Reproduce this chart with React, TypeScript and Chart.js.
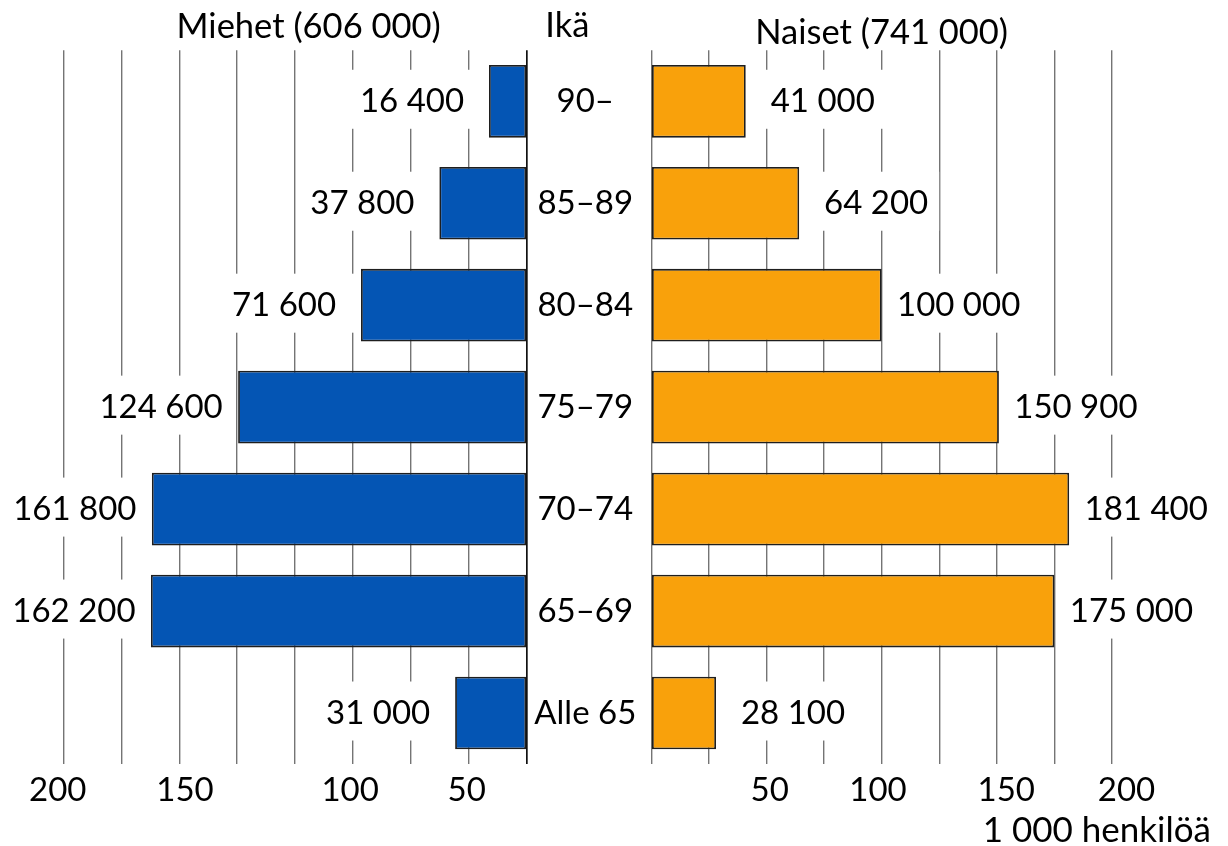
import React, { useEffect, useRef } from 'react';
import { Chart, registerables } from 'chart.js';

Chart.register(...registerables);

// ---- Data ----
const ageGroups = ['90–', '85–89', '80–84', '75–79', '70–74', '65–69', 'Alle 65'];
const menValues = [16.4, 37.8, 71.6, 124.6, 161.8, 162.2, 31.0]; // 1 000 persons
const womenValues = [41.0, 64.2, 100.0, 150.9, 181.4, 175.0, 28.1]; // 1 000 persons
const menTickValues = [202.4, 147.5, 76.3, 26.0];
const menTickLabels = ['200', '150', '100', '50'];
const womenTickValues = [51.4, 98.4, 154.1, 206.3];
const womenTickLabels = ['50', '100', '150', '200'];
const menTitle = 'Miehet (606 000)';
const womenTitle = 'Naiset (741 000)';
const ageTitle = 'Ikä';
const unitLabel = '1 000 henkilöä';

// ---- Style ----
const FONT = '33px Lato';
const TITLE_FONT = '34.5px Lato';
const UNIT_FONT = '35px Lato';
const BLUE = '#0455B4';
const ORANGE = '#F9A10B';
const EDGE = '#1e1e1e';
const GRID = '#747474';
const TEXT = '#000000';

function formatThousands(v: number): string {
  const n = Math.round(v * 1000);
  return n.toString().replace(/\B(?=(\d{3})+(?!\d))/g, ' ');
}

function valueLabelsPlugin(dir: number) {
  return {
    id: 'valueLabels' + dir,
    afterDatasetsDraw(chart: any) {
      const ctx = chart.ctx;
      const meta = chart.getDatasetMeta(0);
      const data = chart.data.datasets[0].data as number[];
      ctx.save();
      ctx.font = FONT;
      ctx.textAlign = 'center';
      ctx.textBaseline = 'alphabetic';
      meta.data.forEach((bar: any, i: number) => {
        const xEnd = bar.x;
        const yc = bar.y;
        const x1 = xEnd + dir * 2.5;
        const x2 = xEnd + dir * 140;
        ctx.fillStyle = '#ffffff';
        ctx.fillRect(Math.min(x1, x2), yc - 31.5, Math.abs(x2 - x1), 59);
        ctx.fillStyle = TEXT;
        ctx.fillText(formatThousands(data[i]), xEnd + dir * 77, yc + 11);
      });
      ctx.restore();
    },
  };
}

function tickLabelsPlugin(values: number[], labels: string[]) {
  return {
    id: 'tickLabels',
    afterDraw(chart: any) {
      const ctx = chart.ctx;
      const s = chart.scales.x;
      ctx.save();
      ctx.font = FONT;
      ctx.fillStyle = TEXT;
      ctx.textAlign = 'center';
      ctx.textBaseline = 'alphabetic';
      values.forEach((v, i) => {
        ctx.fillText(labels[i], s.getPixelForValue(v), chart.chartArea.bottom + 37);
      });
      ctx.restore();
    },
  };
}

const leftTextPlugin = {
  id: 'leftText',
  afterDraw(chart: any) {
    const ctx = chart.ctx;
    ctx.save();
    ctx.font = TITLE_FONT;
    ctx.fillStyle = TEXT;
    ctx.textAlign = 'center';
    ctx.textBaseline = 'alphabetic';
    const ca = chart.chartArea;
    ctx.fillText(menTitle, (ca.left + ca.right) / 2 + 13.5, 38);
    ctx.restore();
  },
};

const rightTextPlugin = {
  id: 'rightText',
  afterDraw(chart: any) {
    const ctx = chart.ctx;
    const ca = chart.chartArea;
    ctx.save();
    ctx.fillStyle = TEXT;
    ctx.textBaseline = 'alphabetic';
    ctx.textAlign = 'center';
    ctx.font = TITLE_FONT;
    ctx.fillText(womenTitle, (ca.left + ca.right) / 2, 43.5);
    ctx.fillText(ageTitle, ca.left - 84, 37);
    ctx.textAlign = 'right';
    ctx.font = UNIT_FONT;
    ctx.fillText(unitLabel, ca.right + 99, ca.bottom + 78);
    ctx.restore();
  },
};

export default function App() {
  const leftRef = useRef<HTMLCanvasElement | null>(null);
  const rightRef = useRef<HTMLCanvasElement | null>(null);

  useEffect(() => {
    Chart.defaults.font.family = 'Lato';
    const gridColor = (c: any) => (c.tick && c.tick.value === 0 ? '#111111' : GRID);
    const gridWidth = (c: any) => (c.tick && c.tick.value === 0 ? 1.7 : 1.4);

    const left = new Chart(leftRef.current as HTMLCanvasElement, {
      type: 'bar',
      data: {
        labels: ageGroups,
        datasets: [
          {
            data: menValues,
            backgroundColor: BLUE,
            borderColor: EDGE,
            borderWidth: 1.8,
            borderSkipped: false,
            barPercentage: 0.713,
            categoryPercentage: 1,
          },
        ],
      },
      options: {
        indexAxis: 'y',
        responsive: false,
        animation: false,
        layout: { padding: { left: 63.3, right: 13, top: 50.3, bottom: 82 } },
        plugins: { legend: { display: false }, tooltip: { enabled: false } },
        scales: {
          x: {
            type: 'linear',
            reverse: true,
            min: 0,
            max: 200,
            ticks: { display: false, stepSize: 25 },
            grid: { drawTicks: false, color: gridColor, lineWidth: gridWidth },
            border: { display: false },
          },
          y: { display: false },
        },
      } as any,
      plugins: [valueLabelsPlugin(-1), tickLabelsPlugin(menTickValues, menTickLabels), leftTextPlugin],
    });

    const right = new Chart(rightRef.current as HTMLCanvasElement, {
      type: 'bar',
      data: {
        labels: ageGroups,
        datasets: [
          {
            data: womenValues,
            backgroundColor: ORANGE,
            borderColor: EDGE,
            borderWidth: 1.8,
            borderSkipped: false,
            barPercentage: 0.713,
            categoryPercentage: 1,
          },
        ],
      },
      options: {
        indexAxis: 'y',
        responsive: false,
        animation: false,
        layout: { padding: { left: 0, right: 116, top: 50.3, bottom: 82 } },
        plugins: { legend: { display: false }, tooltip: { enabled: false } },
        scales: {
          x: {
            type: 'linear',
            min: 0,
            max: 200,
            ticks: { display: false, stepSize: 25 },
            grid: { drawTicks: false, color: GRID, lineWidth: 1.4 },
            border: { display: false },
          },
          y: {
            position: 'left',
            grid: { display: false, drawTicks: false },
            border: { display: false },
            ticks: { font: { family: 'Lato', size: 33 }, color: TEXT, crossAlign: 'center', padding: 15 },
            afterFit: (scale: any) => {
              scale.width = 124.3;
            },
          },
        },
      } as any,
      plugins: [valueLabelsPlugin(1), tickLabelsPlugin(womenTickValues, womenTickLabels), rightTextPlugin],
    });

    return () => {
      left.destroy();
      right.destroy();
    };
  }, []);

  return (
    <div style={{ position: 'absolute', left: 0, top: 0, width: 1228, height: 846, background: '#ffffff' }}>
      <canvas ref={leftRef} width={540} height={846} style={{ position: 'absolute', left: 0, top: 0, width: 540, height: 846 }} />
      <canvas ref={rightRef} width={701} height={846} style={{ position: 'absolute', left: 527, top: 0, width: 701, height: 846 }} />
    </div>
  );
}
